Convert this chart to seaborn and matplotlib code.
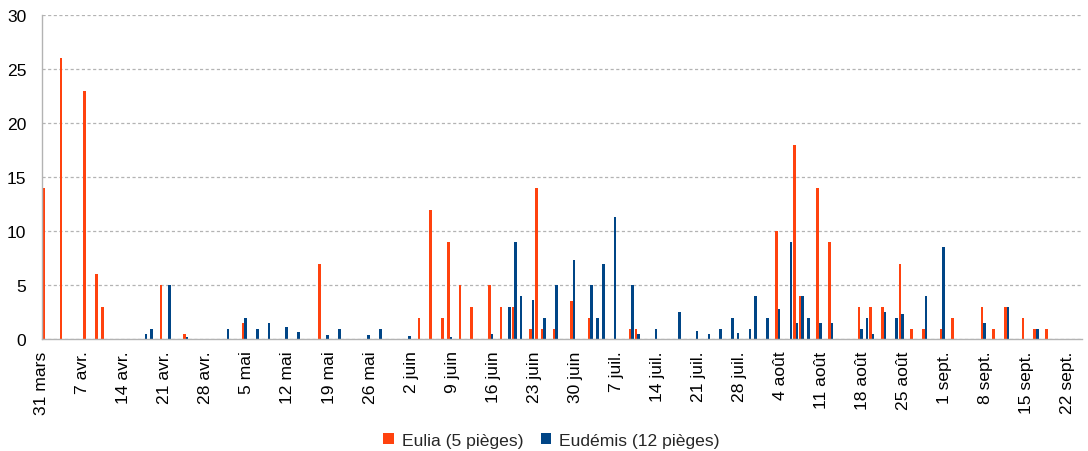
import pandas as pd
import matplotlib
matplotlib.use("Agg")
from matplotlib import pyplot as plt
import seaborn as sns

# piegeages journaliers (mois-jour)
eulia_dates = ["03-31", "04-03", "04-07", "04-09", "04-10", "04-20", "04-24", "05-04",
               "05-17", "06-03", "06-05", "06-07", "06-08", "06-10", "06-12", "06-15",
               "06-17", "06-19", "06-22", "06-23", "06-24", "06-26", "06-29", "07-02",
               "07-09", "07-10", "08-03", "08-06", "08-07", "08-10", "08-12", "08-17",
               "08-19", "08-21", "08-24", "08-26", "08-28", "08-31", "09-02", "09-07",
               "09-09", "09-11", "09-14", "09-16", "09-18"]
eulia_counts = [14, 26, 23, 6, 3, 5, 0.5, 1.5,
                7, 2, 12, 2, 9, 5, 3, 5,
                3, 3, 1, 14, 1, 1, 3.5, 2,
                1, 1, 10, 18, 4, 14, 9, 3,
                3, 3, 7, 1, 1, 1, 2, 3,
                1, 3, 2, 1, 1]

eudemis_dates = ["04-17", "04-18", "04-21", "04-24", "05-01", "05-04", "05-06", "05-08",
                 "05-11", "05-13", "05-18", "05-20", "05-25", "05-27", "06-01", "06-08",
                 "06-15", "06-18", "06-19", "06-20", "06-22", "06-24", "06-26", "06-29",
                 "07-02", "07-03", "07-04", "07-06", "07-09", "07-10", "07-13", "07-17",
                 "07-20", "07-22", "07-24", "07-26", "07-27", "07-29", "07-30", "08-01",
                 "08-03", "08-05", "08-06", "08-07", "08-08", "08-10", "08-12", "08-17",
                 "08-18", "08-19", "08-21", "08-23", "08-24", "08-28", "08-31", "09-07",
                 "09-11", "09-16"]
eudemis_counts = [0.5, 1, 5, 0.2, 1, 2, 1, 1.5,
                  1.1, 0.7, 0.4, 1, 0.4, 1, 0.3, 0.2,
                  0.5, 3, 9, 4, 3.6, 2, 5, 7.3,
                  5, 2, 7, 11.3, 5, 0.5, 1, 2.5,
                  0.8, 0.5, 1, 2, 0.6, 1, 4, 2,
                  2.8, 9, 1.5, 4, 2, 1.5, 1.5, 1,
                  2, 0.5, 2.5, 2, 2.3, 4, 8.5, 1.5,
                  3, 1]

tick_labels = ["31 mars", "7 avr.", "14 avr.", "21 avr.", "28 avr.", "5 mai", "12 mai",
               "19 mai", "26 mai", "2 juin", "9 juin", "16 juin", "23 juin", "30 juin",
               "7 juil.", "14 juil.", "21 juil.", "28 juil.", "4 août", "11 août",
               "18 août", "25 août", "1 sept.", "8 sept.", "15 sept.", "22 sept."]

series_names = ["Eulia (5 pièges)", "Eudémis (12 pièges)"]
colors = ["#ff420e", "#004586"]

start = pd.Timestamp("2023-03-31")


def to_frame(dates, counts, name):
    d = pd.to_datetime(["2023-" + s for s in dates])
    return pd.DataFrame({"jour": (d - start).days, "captures": counts, "espece": name})


df = pd.concat([to_frame(eulia_dates, eulia_counts, series_names[0]),
                to_frame(eudemis_dates, eudemis_counts, series_names[1])],
               ignore_index=True)
# bars sit inside the day slot, right of the date tick
df["x"] = df["jour"] + 0.55

sns.set_style("white")
plt.rcParams["font.family"] = ["Liberation Sans", "DejaVu Sans"]
fs = 12.6
grey = "#b3b3b3"

fig, ax = plt.subplots(figsize=(10.88, 4.52), dpi=100)
fig.subplots_adjust(left=0.0383, right=0.9945, top=0.965, bottom=0.247)

sns.barplot(data=df, x="x", y="captures", hue="espece", hue_order=series_names,
            palette=colors, native_scale=True, dodge=True, width=0.86,
            errorbar=None, saturation=1, linewidth=0, ax=ax)

ax.set_xlim(0, 177.4)
ax.set_ylim(0, 30)
ax.set_yticks(range(0, 31, 5))
ax.set_xticks(range(0, 7 * len(tick_labels), 7))
ax.set_xticklabels(tick_labels, rotation=90)
ax.set_xlabel("")
ax.set_ylabel("")

ax.set_axisbelow(True)
ax.yaxis.grid(True, color=grey, linestyle=(0, (2.5, 2)), linewidth=0.9)
ax.xaxis.grid(False)
for side in ["top", "right"]:
    ax.spines[side].set_visible(False)
for side in ["left", "bottom"]:
    ax.spines[side].set_color(grey)
    ax.spines[side].set_linewidth(1.0)
ax.tick_params(axis="both", colors=grey, labelcolor="black", labelsize=fs, width=1.0)
ax.tick_params(axis="y", length=6, pad=5)
ax.tick_params(axis="x", length=5, pad=3)

handles, labels = ax.get_legend_handles_labels()
ax.get_legend().remove()
fig.legend(handles, labels, loc="center", bbox_to_anchor=(0.507, 0.024), ncol=2,
           frameon=False, fontsize=fs, handlelength=0.6, handleheight=0.6,
           handletextpad=0.45, columnspacing=1.0)

plt.savefig("out.png", dpi=100)
